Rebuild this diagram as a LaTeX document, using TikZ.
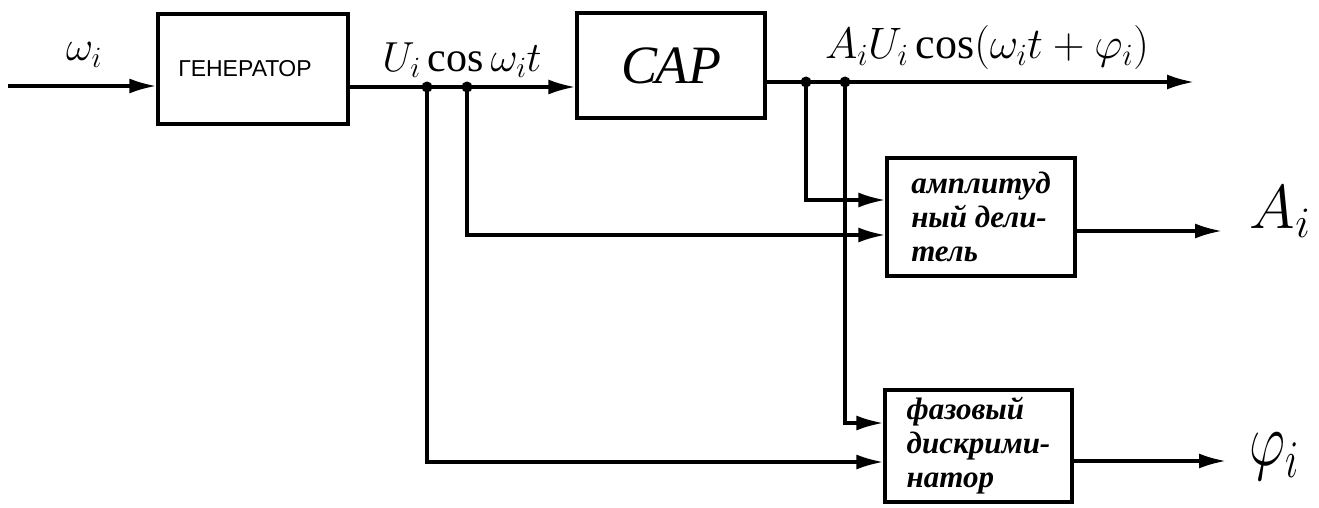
\RequirePackage{fix-cm}
\documentclass[tikz,border=0pt]{standalone}
\usepackage{fontspec}
\setmainfont{Liberation Serif}
\newfontfamily\blockfont{Liberation Sans}
\usetikzlibrary{arrows.meta}
\begin{document}
\begin{tikzpicture}[x=1pt,y=-1pt,
  blk/.style={draw, line width=3.2pt, inner sep=0pt},
  conn/.style={line width=3.2pt},
  arr/.style={conn, -{Latex[length=27pt,width=15pt]}},
  jdot/.style={circle, fill, inner sep=0pt, minimum size=11pt},
  lbl/.style={inner sep=0pt},
  big/.style={font=\fontsize{42}{50}\selectfont},
  boxtxt/.style={font=\fontsize{31}{34}\selectfont\bfseries\itshape, align=left}]
\useasboundingbox (0,0) rectangle (1319,508);
% blocks
\node[blk, minimum width=190pt, minimum height=110pt, font=\blockfont\fontsize{23}{28}\selectfont] (gen) at (253,69) {ГЕНЕРАТОР\hspace*{16pt}};
\node[blk, minimum width=188pt, minimum height=105pt, font=\fontsize{54}{60}\selectfont\itshape] (cap) at (671,65.5) {САР};
\node[blk, minimum width=188pt, minimum height=118pt, boxtxt] (amp) at (981,217) {амплитуд\\ный дели-\\тель};
\node[blk, minimum width=187pt, minimum height=112pt, boxtxt] (ph) at (978.5,446) {фазовый\\дискрими-\\натор};
% coordinates
\coordinate (in) at (8,86);
\coordinate (j1) at (427,87);
\coordinate (j2) at (467,87);
\coordinate (c1) at (427,462);
\coordinate (c2) at (467,235);
\coordinate (j3) at (806,82);
\coordinate (j4) at (845,82);
\coordinate (out) at (1194,82);
\coordinate (c3) at (806,200);
\coordinate (c4) at (845,423);
\coordinate (ao) at (1222,231);
\coordinate (po) at (1226,461);
% connectors
\draw[arr] (in) -- (in -| gen.west);
\draw[arr] (j1 -| gen.east) -- (j1 -| cap.west);
\draw[arr] (j1) -- (c1) -- (c1 -| ph.west);
\draw[arr] (j2) -- (c2) -- (c2 -| amp.west);
\draw[arr] (j3 -| cap.east) -- (out);
\draw[arr] (j3) -- (c3) -- (c3 -| amp.west);
\draw[arr] (j4) -- (c4) -- (c4 -| ph.west);
\draw[arr] (amp.east |- ao) -- (ao);
\draw[arr] (ph.east |- po) -- (po);
\node[jdot] at (j1) {};
\node[jdot] at (j2) {};
\node[jdot] at (j3) {};
\node[jdot] at (j4) {};
% labels
\node[lbl, big] (w) at (84,55) {$\omega_i$};
\node[lbl, big] (u) at (462,60) {$U_i\cos\omega_i t$};
\node[lbl, font=\fontsize{44}{52}\selectfont] (a) at (987,48) {$A_iU_i\cos(\omega_i t+\varphi_i)$};
\node[lbl, font=\fontsize{62}{70}\selectfont] (ai) at (1280,212) {$A_i$};
\node[lbl, font=\fontsize{56}{64}\selectfont, yscale=1.35] (fi) at (1274,457) {$\varphi_i$};
\end{tikzpicture}
\end{document}
